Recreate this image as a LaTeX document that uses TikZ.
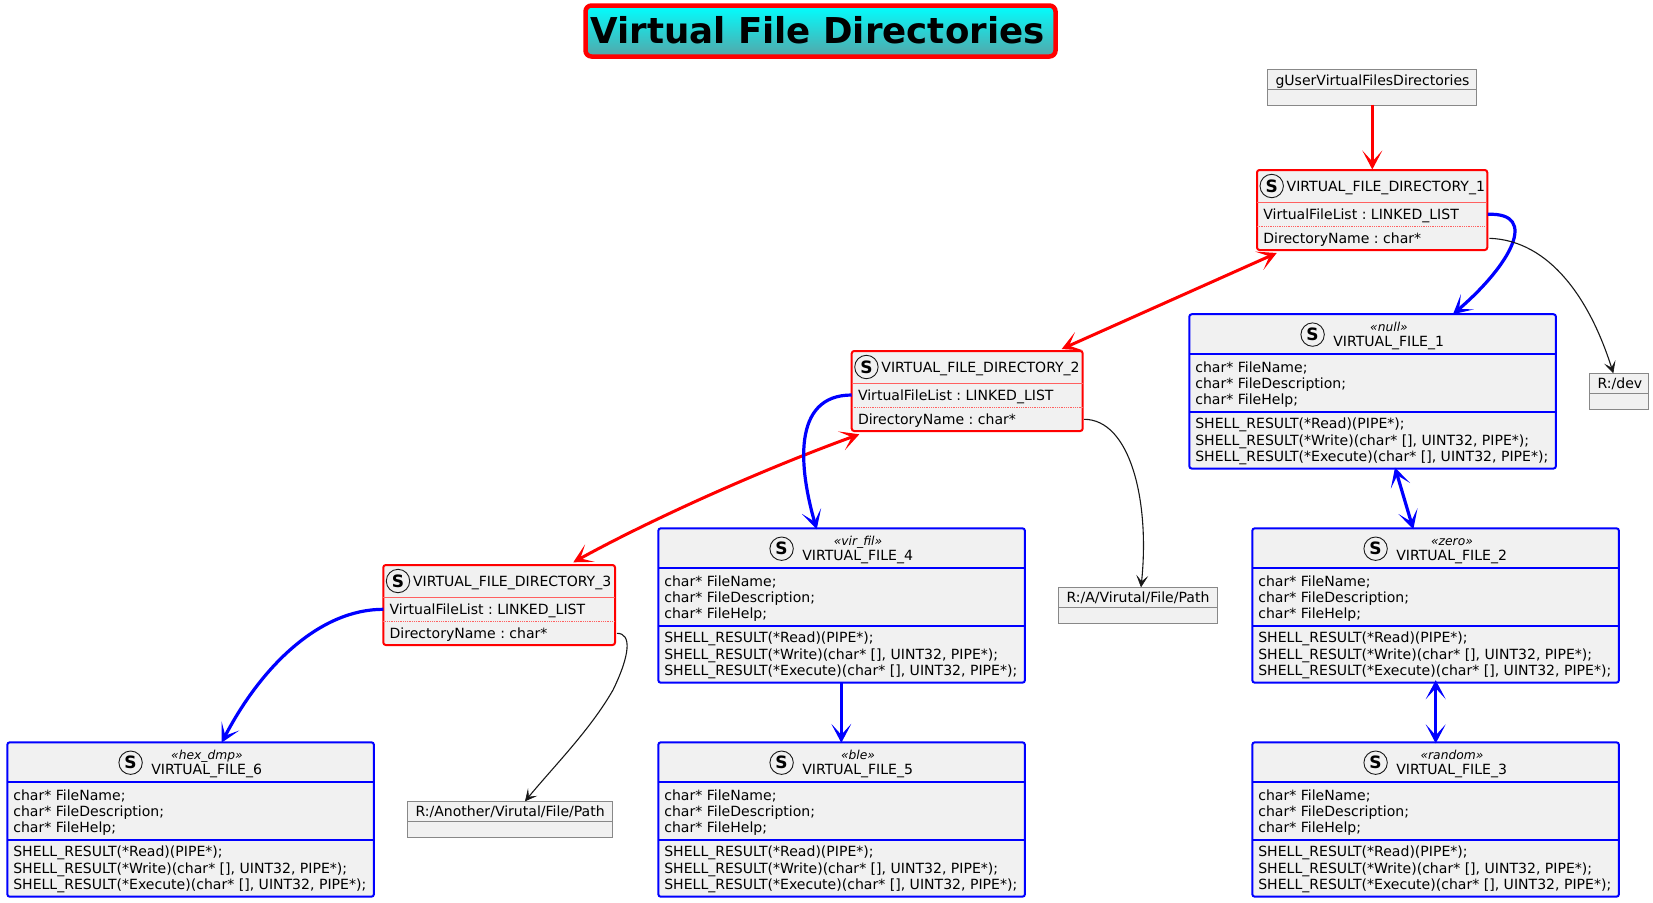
\documentclass[tikz,border=0pt]{standalone}
\usepackage{fontspec}
\setmainfont{DejaVu Sans}
\usetikzlibrary{arrows.meta,calc}
\definecolor{boxfill}{HTML}{F1F1F1}
\definecolor{objline}{HTML}{888888}
\definecolor{inkc}{HTML}{181818}
\definecolor{softred}{HTML}{FF6060}
\definecolor{titlebot}{HTML}{55A5A8}
\frenchspacing
\tikzset{
  x=1pt,y=-1pt,
  every node/.style={inner sep=0pt,outer sep=0pt},
  txt/.style={anchor=base west,text=black,font=\fontsize{14.05}{16}\selectfont},
  stereo/.style={anchor=base,text=black,font=\fontsize{12.3}{14}\selectfont\itshape},
  spot/.style={circle,draw=inkc,fill=boxfill,line width=.9pt,minimum size=23.4pt,font=\fontsize{17}{18}\selectfont\bfseries},
  filebox/.style={draw=blue,fill=boxfill,line width=2pt,rounded corners=2.5pt,anchor=north west,minimum width=366.6pt,minimum height=154.4pt},
  dirbox/.style={draw=red,fill=boxfill,line width=2pt,rounded corners=2.5pt,anchor=north west,minimum height=80pt},
  objbox/.style={draw=objline,fill=boxfill,line width=1.1pt,anchor=north west},
  bluediv/.style={draw=blue,line width=2pt},
  reddiv/.style={draw=softred,line width=.8pt},
  objdiv/.style={draw=objline,line width=1.1pt},
  redarrow/.style={draw=red,line width=3pt},
  bluearrow/.style={draw=blue,line width=3.2pt},
  thinarrow/.style={draw=inkc,line width=1.1pt,-{Stealth[length=12pt,width=12pt,inset=6pt,line width=.6pt]}},
  headr/.style={-{Stealth[length=19pt,width=20pt,inset=11pt,line width=1.2pt]}},
  headb/.style={{Stealth[length=19pt,width=20pt,inset=11pt,line width=1.2pt]}-{Stealth[length=19pt,width=20pt,inset=11pt,line width=1.2pt]}},
}
\newcommand{\filecls}[5]{%
  \node[filebox] (#1) at (#2,#3) {};
  \draw[bluediv] (#2,#3+40) -- ++(366.6,0);
  \draw[bluediv] (#2,#3+97.4) -- ++(366.6,0);
  \node[spot] (#1s) at (#2+123.3,#3+20.4) {S};
  \node[stereo] (#1a) at (#2+199.7,#3+17) {«#4»};
  \node[txt] (#1n) at (#2+144,#3+32.4) {#5};
  \node[txt] (#1b) at (#2+6,#3+58.3) {char* FileName;};
  \node[txt] (#1c) at (#2+6,#3+74.3) {char* FileDescription;};
  \node[txt] (#1d) at (#2+6,#3+90.3) {char* FileHelp;};
  \node[txt] (#1e) at (#2+6,#3+114.3) {SHELL\_RESULT(*Read)(PIPE*);};
  \node[txt] (#1f) at (#2+6,#3+131) {SHELL\_RESULT(*Write)(char* [], UINT32, PIPE*);};
  \node[txt] (#1g) at (#2+6,#3+147.3) {SHELL\_RESULT(*Execute)(char* [], UINT32, PIPE*);};
}
\newcommand{\dircls}[5]{% name x y width label
  \node[dirbox,minimum width=#4] (#1) at (#2,#3) {};
  \draw[reddiv] (#2,#3+32.3) -- ++(#4,0);
  \draw[reddiv,densely dotted] (#2,#3+56.3) -- ++(#4,0);
  \node[spot] (#1s) at (#2+14.7,#3+16) {S};
  \node[txt] (#1n) at (#2+29.7,#3+21.3) {#5};
  \node[txt] (#1a) at (#2+6.3,#3+49.6) {VirtualFileList : LINKED\_LIST};
  \node[txt] (#1b) at (#2+6.3,#3+73.8) {DirectoryName : char*};
}
\newcommand{\objcls}[6]{% name x y width dividerOffset label
  \node[objbox,minimum width=#4,minimum height=36pt] (#1) at (#2,#3) {};
  \draw[objdiv] (#2,#3+20) -- ++(#4,0);
  \node[txt] (#1n) at (#2+8.2,#3+#5) {#6};
}
\begin{document}
\begin{tikzpicture}
\useasboundingbox (0,0) rectangle (1653,902);
\node[draw=red,line width=4.5pt,rounded corners=6pt,top color=cyan,bottom color=titlebot,anchor=north west,minimum width=470pt,minimum height=51pt] (title) at (585.5,5.5) {};
\node[anchor=base west,text=black,font=\fontsize{35.6}{40}\selectfont\bfseries] (titletext) at (590.5,43.5) {Virtual File Directories};

\objcls{guser}{1267.3}{69.5}{209}{16}{gUserVirtualFilesDirectories}
\objcls{rdev}{1589.3}{373.3}{59.4}{15.2}{R:/dev}
\objcls{ra}{1058.3}{587.3}{159.4}{15.3}{R:/A/Virutal/File/Path}
\objcls{rb}{407.3}{801.3}{205}{15.3}{R:/Another/Virutal/File/Path}

\dircls{dira}{1257}{170}{230.3}{VIRTUAL\_FILE\_DIRECTORY\_1}
\dircls{dirb}{851.7}{351}{231}{VIRTUAL\_FILE\_DIRECTORY\_2}
\dircls{dirc}{383.3}{565}{231.7}{VIRTUAL\_FILE\_DIRECTORY\_3}

\filecls{fa}{1189.3}{314.2}{null}{VIRTUAL\_FILE\_1}
\filecls{fb}{1252.3}{528.3}{zero}{VIRTUAL\_FILE\_2}
\filecls{fc}{1252.3}{742.3}{random}{VIRTUAL\_FILE\_3}
\filecls{fd}{658.3}{528.3}{vir\_fil}{VIRTUAL\_FILE\_4}
\filecls{fe}{658.3}{742.3}{ble}{VIRTUAL\_FILE\_5}
\filecls{ff}{7.3}{742.3}{hex\_dmp}{VIRTUAL\_FILE\_6}

% connectors
\draw[redarrow,headr] ($(guser.south west)+(105,-1)$) -- ($(dira.north west)+(115.3,-0.5)$);
\draw[redarrow,headb] ($(dira.south west)+(19.7,3)$) -- ($(dirb.north west)+(210,-2)$);
\draw[redarrow,headb] ($(dirb.south west)+(7.6,3.3)$) .. controls +(-99,36) and (650,520) .. ($(dirc.north west)+(190,-2.7)$);
\draw[bluearrow,headr,draw=blue] ($(dira.north east)+(0.5,44.3)$) .. controls +(52,-2) and +(57,-49) .. ($(fa.north west)+(263.7,0)$);
\draw[thinarrow] ($(dira.north east)+(2,68.3)$) .. controls +(61,2) and +(-23,-73) .. ($(rdev.north west)+(24,0)$);
\draw[bluearrow,headr] ($(dirb.north west)+(0,44)$) .. controls +(-61,0) and +(-17,-59) .. ($(fd.north west)+(158.4,1)$);
\draw[thinarrow] ($(dirb.north east)+(1.3,68.3)$) .. controls +(46,0) and +(9,-87) .. ($(ra.north west)+(82.7,0)$);
\draw[bluearrow,headr] ($(dirc.north west)+(0,44.3)$) .. controls +(-63,0) and +(40.6,-77.7) .. ($(ff.north west)+(214.3,0.4)$);
\draw[thinarrow] ($(dirc.north east)+(2,68.3)$) .. controls +(15,0) and (630,655) .. (613,690) .. controls (590,730) and (555,765) .. ($(rb.north west)+(117.7,0)$);
\draw[bluearrow,headr] ($(fd.south west)+(183,0)$) -- ($(fe.north west)+(183,0.5)$);
\draw[bluearrow,headb] ($(fa.south west)+(205.7,-1)$) -- ($(fb.north west)+(161,1)$);
\draw[bluearrow,headb] ($(fb.south west)+(183.4,-2.5)$) -- ($(fc.north west)+(183.4,1)$);
\end{tikzpicture}
\end{document}
